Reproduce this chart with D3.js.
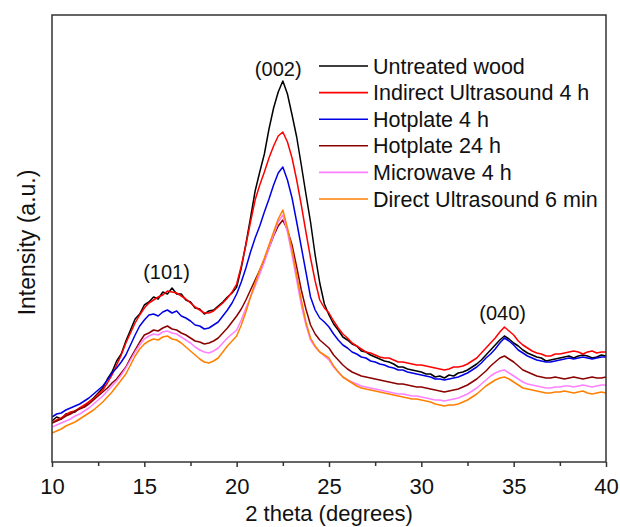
<!DOCTYPE html>
<html><head><meta charset="utf-8">
<script src="https://cdn.jsdelivr.net/npm/d3@7/dist/d3.min.js"></script>
<style>
body{margin:0;background:#fff}
svg{display:block}
text{font-family:"Liberation Sans",Arial,sans-serif;fill:#111}
</style>
</head><body>
<svg id="chart" width="620" height="527"></svg>
<script>
// ---- data (2θ grid: 10° to 40°, 0.25° step) ----
const angleStart = 10;
const angleStep = 0.25;
const seriesNames = ["Untreated wood","Indirect Ultrasound 4 h","Hotplate 4 h","Hotplate 24 h","Microwave 4 h","Direct Ultrasound 6 min"];
const seriesColors = ["#000000","#ff0000","#0000e6","#8b0000","#ff80ff","#ff8000"];

const untreated = [
 41,45,43,48,49,50,54,55,60,64,
 69,74,83,90,101,108,121,132,143,148,
 157,160,165,163,170,168,174,168,168,162,
 160,154,153,148,151,152,156,160,165,169,
 175,194,218,244,271,290,308,333,354,370,
 381,368,347,325,297,268,240,207,179,158,
 147,138,132,125,122,118,116,111,110,107,
 105,103,101,100,98,95,95,93,92,91,
 90,88,88,85,86,84,87,86,89,90,
 92,95,98,102,107,112,117,122,126,123,
 119,116,112,109,107,105,104,101,102,103,
 104,105,106,104,106,107,106,104,105,107,
 106];
const indirectUS4h = [
 39,42,44,47,50,51,54,57,60,63,
 68,72,79,87,97,107,119,129,139,147,
 154,159,162,165,167,171,170,169,166,163,
 159,155,152,149,149,151,155,159,164,170,
 178,196,217,240,262,277,290,304,316,326,
 330,320,304,282,257,230,204,181,162,154,
 149,141,134,128,124,119,116,113,110,109,
 107,105,104,104,102,100,100,99,98,97,
 97,96,95,94,93,92,93,95,95,96,
 98,101,104,109,114,119,124,130,135,131,
 127,121,117,114,111,109,108,106,106,108,
 108,109,110,111,110,108,110,111,109,110,
 110];
const hotplate4h = [
 45,48,49,52,54,56,58,61,64,68,
 72,76,82,89,94,100,107,117,127,136,
 142,147,148,146,150,152,149,151,146,144,
 141,137,136,133,134,137,140,146,152,159,
 168,180,194,210,224,236,250,263,277,289,
 295,282,264,240,215,190,165,152,144,140,
 135,128,122,117,114,110,108,105,104,101,
 100,98,97,95,94,92,92,90,89,88,
 87,86,85,83,83,82,83,84,85,87,
 89,92,95,99,104,108,113,119,124,121,
 117,112,109,106,104,102,101,100,100,101,
 102,103,104,103,104,105,104,103,104,105,
 105];
const hotplate24h = [
 39,41,43,46,48,51,53,55,58,62,
 66,70,74,79,83,89,95,104,112,120,
 127,129,132,131,134,136,133,132,129,127,
 124,121,120,118,119,121,124,129,134,140,
 146,153,162,172,182,192,202,214,226,236,
 242,232,217,195,172,153,137,128,122,118,
 114,107,102,97,93,90,88,86,85,84,
 83,82,81,80,79,78,78,77,76,75,
 75,74,73,72,71,70,71,72,73,75,
 77,80,83,87,91,96,100,104,106,103,
 100,96,92,90,88,86,85,84,84,85,
 84,83,84,85,84,83,84,85,84,84,
 85];
const microwave4h = [
 35,37,39,41,43,46,48,51,54,58,
 62,66,71,76,81,87,94,102,110,117,
 123,126,128,127,130,131,129,128,125,122,
 119,115,112,110,109,111,114,119,124,128,
 132,142,154,165,176,188,200,214,227,240,
 247,230,207,182,157,137,122,115,110,106,
 102,95,90,85,82,80,78,76,75,74,
 73,72,71,70,69,68,68,67,66,66,
 65,64,63,62,62,61,62,63,64,66,
 68,71,74,78,82,86,89,91,92,89,
 86,83,80,78,77,76,75,74,74,75,
 75,76,76,75,76,77,76,75,76,77,
 77];
const directUS6min = [
 29,31,33,36,38,40,43,46,49,52,
 56,60,65,70,76,82,88,97,106,113,
 118,121,123,122,125,126,123,122,119,115,
 111,107,103,100,99,101,104,110,116,121,
 126,137,150,165,179,192,204,217,230,243,
 252,234,212,187,162,140,124,116,110,107,
 104,96,90,85,82,79,76,74,73,72,
 71,70,69,68,67,66,65,64,63,63,
 62,61,60,58,57,56,57,57,58,60,
 62,65,68,72,76,79,82,84,85,83,
 80,77,74,73,72,71,70,69,69,70,
 70,71,70,69,70,71,69,68,69,70,
 69];

const xTickValues = [10,15,20,25,30,35,40];
const xMinorTickValues = [12.5,17.5,22.5,27.5,32.5,37.5];
const peakLabels = ["(101)","(002)","(040)"];
const peakAngles = [16.2, 22.25, 34.4];
const peakLabelIntensity = [183, 386, 142];

// ---- layout ----
const svg = d3.select("#chart");
const M = {left:52, right:606, top:15, bottom:462};
const x = d3.scaleLinear().domain([10,40]).range([M.left, M.right]);
const y = d3.scaleLinear().domain([0,447]).range([M.bottom, M.top]);

const allSeries = [untreated, indirectUS4h, hotplate4h, hotplate24h, microwave4h, directUS6min];

const line = d3.line()
  .x((d,i)=>x(angleStart + i*angleStep))
  .y(d=>y(d));

svg.append("clipPath").attr("id","plotclip")
  .append("rect").attr("x",M.left).attr("y",M.top)
  .attr("width",M.right-M.left).attr("height",M.bottom-M.top);

const g = svg.append("g").attr("clip-path","url(#plotclip)");
allSeries.forEach((s,k)=>{
  g.append("path").datum(s)
    .attr("d", line)
    .attr("fill","none")
    .attr("stroke", seriesColors[k])
    .attr("stroke-width",1.5)
    .attr("stroke-linejoin","round");
});

// frame
svg.append("rect").attr("x",M.left).attr("y",M.top)
  .attr("width",M.right-M.left).attr("height",M.bottom-M.top)
  .attr("fill","none").attr("stroke","#333").attr("stroke-width",1.5);

// x axis
const xAxis = d3.axisBottom(x).tickValues(xTickValues).tickSize(5).tickPadding(11).tickFormat(d3.format("d"));
const ax = svg.append("g").attr("transform",`translate(0,${M.bottom})`).call(xAxis);
ax.select(".domain").remove();
ax.selectAll(".tick line").attr("stroke","#333").attr("stroke-width",1.5);
ax.selectAll(".tick text").attr("font-size",22).attr("fill","#111")
  .style("font-family",'"Liberation Sans",Arial,sans-serif');
const axm = svg.append("g").attr("transform",`translate(0,${M.bottom})`)
  .call(d3.axisBottom(x).tickValues(xMinorTickValues).tickSize(4).tickFormat(""));
axm.select(".domain").remove();
axm.selectAll(".tick line").attr("stroke","#333").attr("stroke-width",1.5);

// axis titles
svg.append("text").attr("x",(M.left+M.right)/2).attr("y",521)
  .attr("text-anchor","middle").attr("font-size",22).text("2 theta (degrees)");
svg.append("text").attr("transform",`translate(35,${(M.top+M.bottom)/2 + 4}) rotate(-90)`)
  .attr("text-anchor","middle").attr("font-size",23).text("Intensity (a.u.)");

// peak labels
peakLabels.forEach((t,i)=>{
  svg.append("text").attr("x",x(peakAngles[i])).attr("y",y(peakLabelIntensity[i]))
    .attr("text-anchor","middle").attr("font-size",20).text(t);
});

// legend
const lg = svg.append("g").attr("transform","translate(319,66)");
seriesNames.forEach((n,i)=>{
  const row = lg.append("g").attr("transform",`translate(0,${i*26.6})`);
  row.append("line").attr("x1",0).attr("x2",49).attr("y1",0).attr("y2",0)
    .attr("stroke",seriesColors[i]).attr("stroke-width",1.6);
  row.append("text").attr("x",54).attr("y",7.5).attr("font-size",21.5).text(n);
});
</script>
</body></html>
